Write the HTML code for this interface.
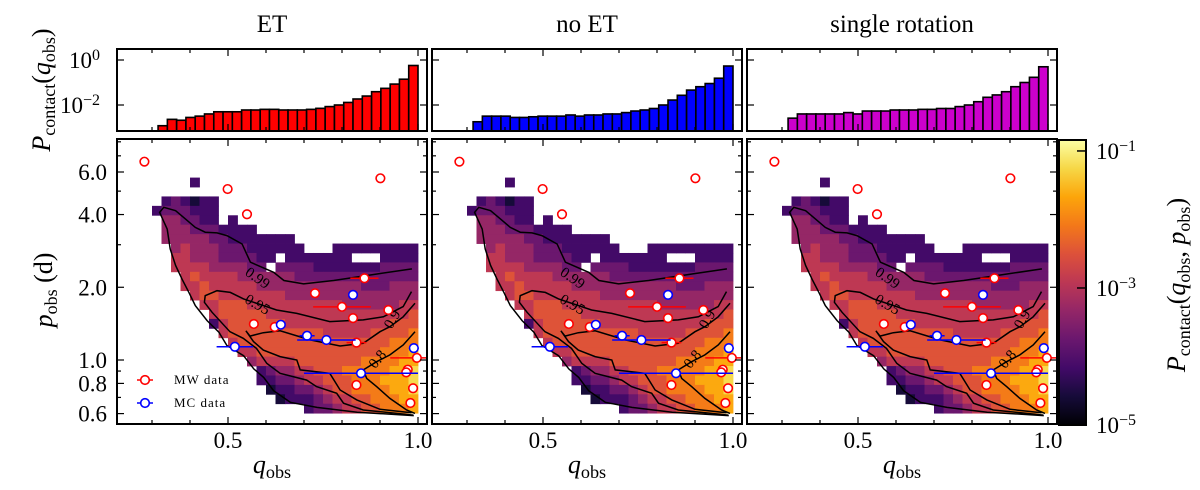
<!DOCTYPE html>
<html><head><meta charset="utf-8"><style>
html,body{margin:0;padding:0;background:#fff}
svg{display:block;font-family:"Liberation Serif",serif}
</style></head><body>
<svg id="chart" width="1200" height="490" viewBox="0 0 1200 490"></svg>
<script>
// ---- data ----
const panelTitles = ["ET", "no ET", "single rotation"];
const histColors = ["#ff0000", "#0000ff", "#cc00cc"];
const histStartQ = 0.316;
const histEndQ = 1.0;
const histET = [1.2e-3,2.3e-3,2.1e-3,2.8e-3,3.2e-3,4.0e-3,5e-3,5e-3,5e-3,6e-3,6e-3,6.4e-3,6.4e-3,6e-3,6e-3,6e-3,6.4e-3,7.1e-3,8.5e-3,1e-2,1.3e-2,1.85e-2,2.5e-2,3.9e-2,5.5e-2,8.5e-2,0.14,0.57];
const histNoET = [1.8e-3,3.2e-3,3.2e-3,3.2e-3,2.8e-3,2.8e-3,3e-3,3.2e-3,3.2e-3,3.2e-3,3.6e-3,3.2e-3,3.6e-3,3.6e-3,4e-3,4e-3,4.6e-3,5.4e-3,6e-3,7e-3,1e-2,1.66e-2,2.7e-2,4.6e-2,6.5e-2,9e-2,0.155,0.54];
const histSingle = [2.6e-3,4e-3,4e-3,4e-3,4e-3,4e-3,4.6e-3,4e-3,5.4e-3,5.4e-3,5.4e-3,6e-3,6e-3,6e-3,6.4e-3,6.4e-3,7e-3,7e-3,8.5e-3,1e-2,1.4e-2,2.2e-2,2.8e-2,3.9e-2,6.5e-2,0.1,0.17,0.5];
const histSeries = [histET, histNoET, histSingle];

// heatmap: rows from top (highest p) to bottom; digit d -> log10(P) = -5 + 0.42*d ; '.' empty
const heatQ0 = 0.3, heatDQ = 0.025, heatLogP0 = -0.22, heatDLogP = 0.039;
const heatRows = [
"....2",
"",
".232122",
"2333222",
".443322.2",
".4443332222",
".44444332222222",
".."+"45444333222222"+"..."+"222222222",
".."+"55444"+"3333"+"22"+"."+"2222222"+"..."+"2222",
".."+"55554"+"44433"+"."+"333322222223333",
"..."+"56555"+"54444"+"44333"+"33333"+"33333",
"..."+"55655"+"55544"+"44444"+"44443"+"33444",
"...."+"5665"+"55555"+"54444"+"44444"+"44444",
"....."+"556"+"66555"+"55555"+"55444"+"44455",
"......"+"56"+"66665"+"55555"+"55555"+"55556",
"......"+"25"+"66666"+"65555"+"55555"+"55666",
"......."+"5"+"66666"+"66666"+"55555"+"66667",
"........"+"56666"+"66666"+"66666"+"66777",
"........."+"5566"+"66666"+"66666"+"67778",
".........."+"455"+"55666"+"66667"+"77788",
"..........."+"23"+"44556"+"66777"+"77889",
"..........."+"22"+"33455"+"66677"+"78889",
"............"+"1"+"22334"+"56677"+"77889",
"............."+"12223"+"45566"+"77788",
"................"+"23"+"34556"+"67778"
];

const cbarMinLog = -5, cbarMaxLog = -0.84;

// observed systems (q, p [d], q error)
const mwQ = [0.280,0.499,0.550,0.901,0.859,0.729,0.800,0.829,0.922,0.568,0.623,0.838,0.997,0.973,0.969,0.838,0.987,0.980];
const mwP = [6.62,5.10,4.01,5.65,2.18,1.89,1.66,1.49,1.61,1.41,1.37,1.18,1.02,0.912,0.889,0.788,0.764,0.664];
const mwErr = [0,0,0,0.01,0.037,0,0.076,0,0,0,0,0.026,0.07,0,0,0,0,0];
const mcQ = [0.829,0.639,0.708,0.759,0.518,0.989,0.850];
const mcP = [1.86,1.40,1.26,1.21,1.135,1.12,0.881];
const mcErr = [0,0,0.02,0.077,0.048,0.013,0.15];

// contours: q and log10(p)
const c99Q = [0.984,0.892,0.778,0.699,0.647,0.620,0.559,0.537,0.497,0.471,0.440,0.414,0.388,0.362,0.331,0.320,0.340,0.348,0.362,0.379,0.397,0.414,0.445,0.476,0.497,0.541,0.568,0.594,0.620,0.664,0.734,0.840,0.989];
const c99L = [0.377,0.356,0.329,0.315,0.329,0.363,0.405,0.480,0.515,0.526,0.529,0.549,0.584,0.618,0.632,0.611,0.542,0.460,0.391,0.335,0.280,0.225,0.163,0.115,0.060,0.018,-0.037,-0.072,-0.127,-0.175,-0.196,-0.216,-0.230];
const c95Q = [0.983,0.961,0.909,0.856,0.768,0.681,0.628,0.541,0.506,0.471,0.440,0.438,0.458,0.505,0.540,0.575,0.602,0.637,0.707,0.733,0.786,0.804,0.856,0.988];
const c95L = [0.283,0.221,0.179,0.166,0.159,0.193,0.207,0.253,0.280,0.287,0.266,0.239,0.198,0.117,0.090,0.048,-0.014,-0.055,-0.083,-0.110,-0.138,-0.179,-0.207,-0.228];
const c90Q = [0.992,0.961,0.926,0.900,0.856,0.795,0.716,0.637,0.593,0.558,0.547,0.567,0.593,0.637,0.681,0.690,0.768,0.795,0.839,0.900,0.983];
const c90L = [0.235,0.179,0.138,0.117,0.069,0.058,0.083,0.121,0.113,0.099,0.121,0.076,0.041,0.014,0.000,-0.041,-0.055,-0.124,-0.165,-0.204,-0.218];
const c80Q = [0.992,0.961,0.926,0.891,0.856,0.865,0.891,0.926,0.970,0.992];
const c80L = [0.117,0.062,0.021,-0.007,-0.041,-0.076,-0.110,-0.159,-0.207,-0.221];
const contourLevels = ["0.99","0.95","0.9","0.8"];
const labelQ = [0.576,0.576,0.935,0.896];
const labelL = [0.335,0.225,0.166,0.000];
const labelAngle = [35,30,-60,-50];

const xMajor = [0.5,1.0], xMinor = [0.3,0.4,0.6,0.7,0.8,0.9];
const yMajor = [0.6,0.8,1,2,4,6], yMajorLabels = ["0.6","0.8","1.0","2.0","4.0","6.0"];
const yMinor = [0.7,0.9,3,5,7,8];

// ---- layout ----
const NS = "http://www.w3.org/2000/svg";
const svg = document.getElementById("chart");
const panelLefts = [117,432,747];
const PW = 310, HT = 49, HB = 131, MT = 139, MB = 424;
function px(q, L){ return L + 111 + (q-0.5)*380; }
function pyLog(lp){ return 360 - 241.6*lp; }
function py(p){ return pyLog(Math.log10(p)); }
function hy(v){ return 60 - 22.5*Math.log10(v); }
function mk(tag, attrs, parent){ const e=document.createElementNS(NS,tag); for(const k in attrs) e.setAttribute(k,attrs[k]); (parent||svg).appendChild(e); return e; }

const infStops = ["#000004","#160b39","#420a68","#6a176e","#932667","#bc3754","#dd513a","#f37819","#fca50a","#f6d746","#fcffa4"];
function hex2rgb(h){ return [parseInt(h.slice(1,3),16),parseInt(h.slice(3,5),16),parseInt(h.slice(5,7),16)]; }
function inferno(t){ t=Math.max(0,Math.min(1,t)); const s=t*10, i=Math.min(9,Math.floor(s)), f=s-i; const a=hex2rgb(infStops[i]), b=hex2rgb(infStops[i+1]); return "rgb("+a.map((v,k)=>Math.round(v+(b[k]-v)*f)).join(",")+")"; }

const defs = mk("defs",{});
panelLefts.forEach((L,i)=>{
  const cp = mk("clipPath",{id:"clip"+i},defs);
  mk("rect",{x:L,y:MT,width:PW,height:MB-MT},cp);
});
const grad = mk("linearGradient",{id:"cbgrad",x1:"0",y1:"1",x2:"0",y2:"0"},defs);
for(let k=0;k<=20;k++){ mk("stop",{offset:(k/20),"stop-color":inferno(k/20)},grad); }

function textSub(x,y,main,sub,size,anchor,parent,name,italicMain){
  const t = mk("text",{x:x,y:y,"font-size":size,"text-anchor":anchor||"middle"},parent);
  
  
  const a = mk("tspan",{"font-style":italicMain?"italic":"normal"},t); a.textContent=main;
  const b = mk("tspan",{"baseline-shift":"-25%","font-size":size*0.7},t); b.textContent=sub;
  return t;
}

panelLefts.forEach((L,pi)=>{
  const g = mk("g",{});
  
  
  const title = mk("text",{x:L+PW/2,y:32,"font-size":25,"text-anchor":"middle"},g);
  title.textContent = panelTitles[pi];
  
  

  const hg = mk("g",{},g);
  
  
  const vals = histSeries[pi], n = vals.length, w = (histEndQ-histStartQ)/n;
  vals.forEach((v,i)=>{
    const x0 = px(histStartQ+i*w, L), x1 = px(histStartQ+(i+1)*w, L), yt = Math.max(HT, hy(v));
    const r = mk("rect",{x:x0,y:yt,width:x1-x0,height:HB-yt,fill:histColors[pi],stroke:"#000","stroke-width":1.6},hg);
    
    
  });
  xMajor.concat(xMinor).forEach(q=>{
    const len = xMajor.includes(q)?7:4, x=px(q,L);
    mk("line",{x1:x,y1:HT,x2:x,y2:HT+len,stroke:"#000","stroke-width":1.2},g);
    mk("line",{x1:x,y1:HB,x2:x,y2:HB-len,stroke:"#000","stroke-width":1.2},g);
  });
  [1,0.01].forEach(v=>{
    const y=hy(v);
    mk("line",{x1:L,y1:y,x2:L+7,y2:y,stroke:"#000","stroke-width":1.2},g);
    mk("line",{x1:L+PW,y1:y,x2:L+PW-7,y2:y,stroke:"#000","stroke-width":1.2},g);
  });
  const hf = mk("rect",{x:L,y:HT,width:PW,height:HB-HT,fill:"none",stroke:"#000","stroke-width":2},g);
  
  

  const mg = mk("g",{"clip-path":"url(#clip"+pi+")"},g);
  
  
  const nR = heatRows.length;
  heatRows.forEach((row,ri)=>{
    const rIdx = nR-1-ri;
    const lpB = heatLogP0 + rIdx*heatDLogP, lpT = lpB + heatDLogP;
    for(let c=0;c<row.length;c++){
      const ch=row[c]; if(ch==="."||ch===" ") continue;
      const d = parseInt(ch,10); const lg = -5 + 0.42*d;
      const x0=px(heatQ0+c*heatDQ,L), x1=px(heatQ0+(c+1)*heatDQ,L);
      const cell = mk("rect",{x:x0,y:pyLog(lpT),width:x1-x0+0.4,height:pyLog(lpB)-pyLog(lpT)+0.4,fill:inferno((lg-cbarMinLog)/(cbarMaxLog-cbarMinLog))},mg);
      
      
    }
  });
  [[c99Q,c99L],[c95Q,c95L],[c90Q,c90L],[c80Q,c80L]].forEach((c,ci)=>{
    const d = c[0].map((q,i)=>(i?"L":"M")+px(q,L).toFixed(1)+","+pyLog(c[1][i]).toFixed(1)).join("");
    const p = mk("path",{d:d,fill:"none",stroke:"#000","stroke-width":1.5},mg);
    
    
    const lx=px(labelQ[ci],L), ly=pyLog(labelL[ci]);
    const t = mk("text",{x:lx,y:ly,"font-size":15,"text-anchor":"middle","dominant-baseline":"middle",transform:"rotate("+labelAngle[ci]+" "+lx+" "+ly+")"},mg);
    t.textContent = contourLevels[ci];
    
    
  });
  function drawPts(Q,P,E,col,name){
    Q.forEach((q,i)=>{
      const x=px(q,L), y=py(P[i]);
      if(E[i]>0){
        const el = mk("line",{x1:px(q-E[i],L),y1:y,x2:px(q+E[i],L),y2:y,stroke:col,"stroke-width":1.5},mg);
        
        
      }
      const c = mk("circle",{cx:x,cy:y,r:4.3,fill:"#fff",stroke:col,"stroke-width":1.6},mg);
      
      
    });
  }
  drawPts(mwQ,mwP,mwErr,"#ff0000","mw");
  drawPts(mcQ,mcP,mcErr,"#0000ff","mc");

  xMajor.concat(xMinor).forEach(q=>{
    const len = xMajor.includes(q)?7:4, x=px(q,L);
    mk("line",{x1:x,y1:MT,x2:x,y2:MT+len,stroke:"#000","stroke-width":1.2},g);
    mk("line",{x1:x,y1:MB,x2:x,y2:MB-len,stroke:"#000","stroke-width":1.2},g);
  });
  yMajor.concat(yMinor).forEach(p=>{
    const len = yMajor.includes(p)?7:4, y=py(p);
    mk("line",{x1:L,y1:y,x2:L+len,y2:y,stroke:"#000","stroke-width":1.2},g);
    mk("line",{x1:L+PW,y1:y,x2:L+PW-len,y2:y,stroke:"#000","stroke-width":1.2},g);
  });
  const mf = mk("rect",{x:L,y:MT,width:PW,height:MB-MT,fill:"none",stroke:"#000","stroke-width":2},g);
  
  
  xMajor.forEach(q=>{
    const t = mk("text",{x:px(q,L),y:448,"font-size":23,"text-anchor":"middle"},g);
    t.textContent = q.toFixed(1);
    
    
  });
  textSub(L+PW/2, 473, "q", "obs", 26, "middle", g, "x-axis-title", true);
});

yMajor.forEach((p,i)=>{
  const t = mk("text",{x:107,y:py(p)+8,"font-size":23,"text-anchor":"end"});
  t.textContent = yMajorLabels[i];
  
  
});
[[1,"0"],[0.01,"−2"]].forEach(a=>{
  const t = mk("text",{x:100,y:hy(a[0])+8,"font-size":23,"text-anchor":"end"});
  
  
  const s1=mk("tspan",{},t); s1.textContent="10";
  const s2=mk("tspan",{"baseline-shift":"super","font-size":16},t); s2.textContent=a[1];
});
(function(){
  const t = mk("text",{x:0,y:0,"font-size":26,"text-anchor":"middle",transform:"translate(50,90) rotate(-90)"});
  
  
  const a=mk("tspan",{"font-style":"italic"},t); a.textContent="P";
  const b=mk("tspan",{"baseline-shift":"-25%","font-size":18},t); b.textContent="contact";
  const c=mk("tspan",{},t); c.textContent="(";
  const d=mk("tspan",{"font-style":"italic"},t); d.textContent="q";
  const e=mk("tspan",{"baseline-shift":"-25%","font-size":18},t); e.textContent="obs";
  const f=mk("tspan",{},t); f.textContent=")";
  const t2 = mk("text",{x:0,y:0,"font-size":26,"text-anchor":"middle",transform:"translate(52,290) rotate(-90)"});
  
  
  const g1=mk("tspan",{"font-style":"italic"},t2); g1.textContent="p";
  const g2=mk("tspan",{"baseline-shift":"-25%","font-size":18},t2); g2.textContent="obs";
  const g3=mk("tspan",{},t2); g3.textContent=" (d)";
})();

(function(){
  const lg = mk("g",{});
  
  
  [["MW data","#ff0000",380],["MC data","#0000ff",403]].forEach(e=>{
    const en = mk("g",{},lg);
    
    
    mk("line",{x1:137,y1:e[2],x2:153,y2:e[2],stroke:e[1],"stroke-width":1.5},en);
    mk("circle",{cx:145,cy:e[2],r:4.3,fill:"#fff",stroke:e[1],"stroke-width":1.6},en);
    const t = mk("text",{x:174,y:e[2]+4,"font-size":13,"letter-spacing":"1"},en);
    t.textContent=e[0];
  });
})();

(function(){
  const cb = mk("g",{});
  
  
  const X=1059, W=27, T=140, B=425;
  mk("rect",{x:X,y:T,width:W,height:B-T,fill:"url(#cbgrad)",stroke:"#000","stroke-width":2},cb);
  const cy = lg => B - (lg-cbarMinLog)/(cbarMaxLog-cbarMinLog)*(B-T);
  [-1,-3,-5].forEach(lg=>{
    const y=cy(lg);
    mk("line",{x1:X+W-9,y1:y,x2:X+W,y2:y,stroke:"#000","stroke-width":1.5},cb);
    const t = mk("text",{x:1096,y:y+8,"font-size":23},cb);
    
    
    const a=mk("tspan",{},t); a.textContent="10";
    const b=mk("tspan",{"baseline-shift":"super","font-size":16},t); b.textContent="−"+(-lg);
  });
  const t = mk("text",{x:0,y:0,"font-size":26,"text-anchor":"middle",transform:"translate(1185,285) rotate(-90)"},cb);
  
  
  const parts=[["P","italic",26,null],["contact","normal",18,"-25%"],["(","normal",26,null],["q","italic",26,null],["obs","normal",18,"-25%"],[", ","normal",26,null],["p","italic",26,null],["obs","normal",18,"-25%"],[")","normal",26,null]];
  parts.forEach(p=>{ const s=mk("tspan",{"font-style":p[1],"font-size":p[2]},t); if(p[3]) s.setAttribute("baseline-shift",p[3]); s.textContent=p[0]; });
})();
</script>
</body></html>
